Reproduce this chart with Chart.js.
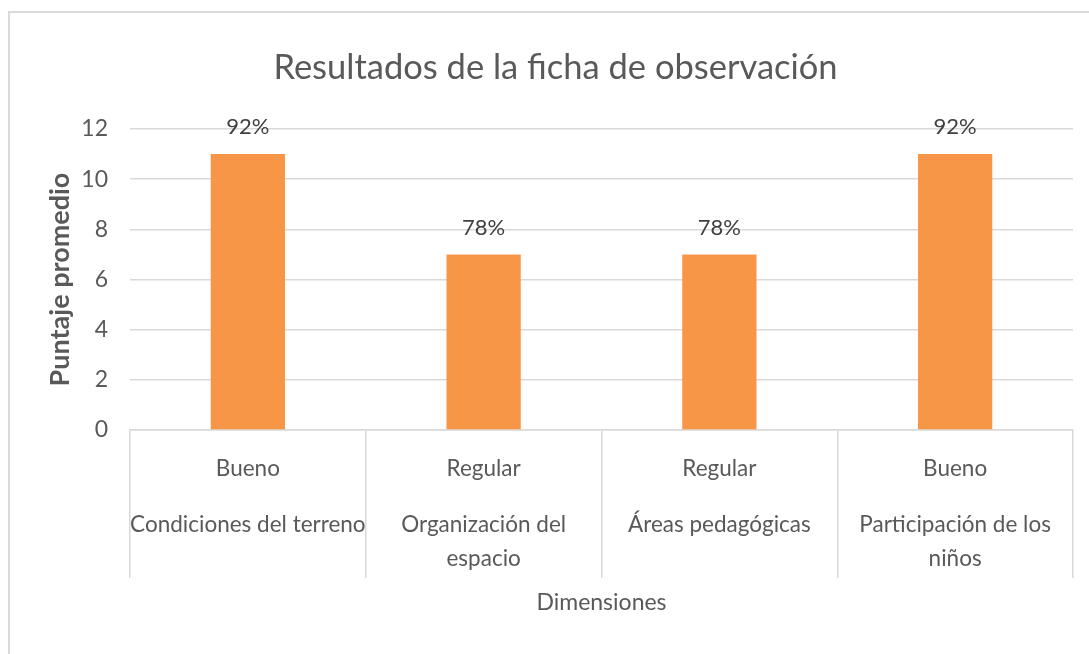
<!DOCTYPE html>
<html lang="es">
<head>
<meta charset="utf-8">
<title>Resultados de la ficha de observación</title>
<script src="https://cdn.jsdelivr.net/npm/chart.js@4.4.1/dist/chart.umd.min.js"></script>
<style>
    html, body { margin: 0; padding: 0; background: #ffffff; }
    #frame {
        position: absolute; left: 8px; top: 11px; width: 1200px; height: 800px;
        border-left: 2px solid #d9d9d9; border-top: 2px solid #d9d9d9;
    }
    #wrap { position: absolute; left: 0; top: 0; width: 1089px; height: 654px; }
</style>
</head>
<body>
<div id="frame"></div>
<div id="wrap"><canvas id="chart"></canvas></div>
<script>
// Datos del gráfico
const niveles = ['Bueno', 'Regular', 'Regular', 'Bueno'];
const dimensiones = [
    ['Condiciones del terreno'],
    ['Organización del', 'espacio'],
    ['Áreas pedagógicas'],
    ['Participación de los', 'niños']
];
const puntajes = [11, 7, 7, 11];
const porcentajes = ['92%', '78%', '78%', '92%'];
const yTicks = [0, 2, 4, 6, 8, 10, 12];

const FONT = "Lato, 'Open Sans', sans-serif";
const GRIS = '#595959';
const LINEA = '#d9d9d9';

// Etiquetas de porcentaje encima de cada barra
const etiquetasBarras = {
    id: 'etiquetasBarras',
    afterDatasetsDraw(chart) {
        const ctx = chart.ctx;
        const meta = chart.getDatasetMeta(0);
        ctx.save();
        ctx.font = `22px ${FONT}`;
        ctx.fillStyle = '#404040';
        ctx.textAlign = 'center';
        ctx.textBaseline = 'middle';
        meta.data.forEach((bar, i) => {
            ctx.fillText(porcentajes[i], bar.x, bar.y - 27);
        });
        ctx.restore();
    }
};

const ctx = document.getElementById('chart').getContext('2d');
new Chart(ctx, {
    type: 'bar',
    data: {
        labels: niveles,
        datasets: [{
            label: 'Puntaje promedio',
            data: puntajes,
            backgroundColor: '#f79646',
            borderWidth: 0,
            barPercentage: 0.315,
            categoryPercentage: 1
        }]
    },
    options: {
        responsive: true,
        maintainAspectRatio: false,
        animation: false,
        layout: { padding: { left: 38, right: 16, top: 47, bottom: 38 } },
        plugins: {
            legend: { display: false },
            tooltip: { enabled: false },
            title: {
                display: true,
                text: 'Resultados de la ficha de observación',
                color: GRIS,
                font: { family: FONT, size: 34.5, weight: 'normal', lineHeight: 1.2 },
                padding: { top: 0, bottom: 40.6 }
            }
        },
        scales: {
            y: {
                min: 0,
                max: 12,
                afterBuildTicks: (axis) => { axis.ticks = yTicks.map(v => ({ value: v })); },
                afterFit: (axis) => { axis.width = 92; },
                grid: { color: LINEA, lineWidth: 1.5, drawTicks: false },
                border: { display: false },
                ticks: { color: GRIS, padding: 22, font: { family: FONT, size: 23 } },
                title: {
                    display: true,
                    text: 'Puntaje promedio',
                    color: GRIS,
                    font: { family: FONT, size: 27, weight: 'bold', lineHeight: 1.2 },
                    padding: { top: 6, bottom: 0 }
                }
            },
            x: {
                offset: true,
                afterFit: (axis) => { axis.height = 58; },
                grid: { offset: true, drawOnChartArea: false, drawTicks: true, tickLength: 148, color: LINEA, lineWidth: 1.5 },
                border: { display: true, color: LINEA, width: 1.5 },
                ticks: {
                    color: GRIS, padding: -123, maxRotation: 0, minRotation: 0, autoSkip: false,
                    font: { family: FONT, size: 22.5, lineHeight: 1.2 }
                }
            },
            x2: {
                type: 'category',
                position: 'bottom',
                labels: dimensiones,
                offset: true,
                afterFit: (axis) => { axis.height = 128; },
                grid: { display: false, drawTicks: false },
                border: { display: false },
                ticks: {
                    color: GRIS, padding: 20, maxRotation: 0, minRotation: 0, autoSkip: false,
                    font: { family: FONT, size: 22.5, lineHeight: '34px' }
                },
                title: {
                    display: true,
                    text: 'Dimensiones',
                    color: GRIS,
                    font: { family: FONT, size: 23, lineHeight: 1.2 },
                    padding: { top: 0, bottom: 0 }
                }
            }
        }
    },
    plugins: [etiquetasBarras]
});
</script>
</body>
</html>
